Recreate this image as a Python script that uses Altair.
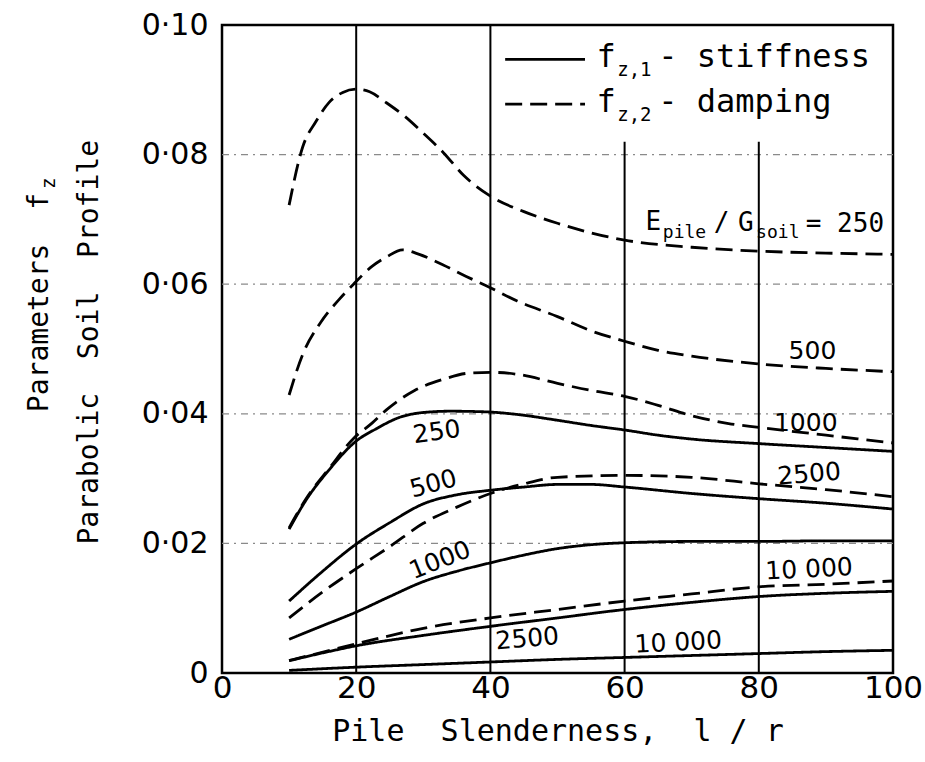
import altair as alt
import pandas as pd

FONT = "DejaVu Sans"
MONO = "DejaVu Sans Mono"
NB = "\u00a0"

# ---------------- data ----------------
stiff_250_x = [10, 12.6, 16, 20, 23, 26.6, 30, 34, 39.3, 44, 50, 55, 60, 65, 70, 80, 90, 100]
stiff_250_y = [0.0222, 0.0268, 0.0314, 0.0358, 0.0377, 0.0395, 0.0402, 0.0404, 0.0403, 0.0399,
               0.0390, 0.0382, 0.0375, 0.0367, 0.0361, 0.0354, 0.0348, 0.0342]

stiff_500_x = [10, 15, 20, 25, 30, 35, 40, 45, 50, 55, 60, 70, 80, 90, 100]
stiff_500_y = [0.0111, 0.0157, 0.0199, 0.0232, 0.0261, 0.0275, 0.0282, 0.0287, 0.0291, 0.0291,
               0.0287, 0.0277, 0.0269, 0.0262, 0.0253]

stiff_1000_x = [10, 15, 20, 25, 30, 35, 40, 45, 50, 55, 60, 70, 80, 90, 100]
stiff_1000_y = [0.0052, 0.0073, 0.0094, 0.0118, 0.0141, 0.0157, 0.0170, 0.0182, 0.0192, 0.0198,
                0.0201, 0.0203, 0.0203, 0.0204, 0.0204]

stiff_2500_x = [10, 15, 20, 30, 40, 50, 60, 70, 80, 90, 100]
stiff_2500_y = [0.0019, 0.0031, 0.0042, 0.0058, 0.0072, 0.0085, 0.0098, 0.0109, 0.0118, 0.0123, 0.0126]

stiff_10000_x = [10, 20, 30, 40, 50, 60, 70, 80, 90, 100]
stiff_10000_y = [0.0004, 0.0009, 0.0013, 0.0017, 0.0021, 0.0024, 0.0027, 0.0030, 0.0033, 0.0035]

damp_250_x = [10, 12, 14, 16, 18, 20, 22, 24.5, 27, 30, 33, 36, 40, 45, 50, 60, 70, 80, 90, 100]
damp_250_y = [0.0722, 0.0811, 0.0851, 0.0881, 0.0896, 0.0901, 0.0897, 0.0880, 0.0861, 0.0833,
              0.0803, 0.0768, 0.0736, 0.0712, 0.0694, 0.0668, 0.0657, 0.0651, 0.0648, 0.0646]

damp_500_x = [10, 12, 14.7, 17.5, 19.6, 22.4, 24.5, 26.9, 29.4, 32.9, 36.4, 39.3, 44, 50, 55,
              60, 65, 70, 80, 90, 100]
damp_500_y = [0.0429, 0.0491, 0.0541, 0.0577, 0.0600, 0.0628, 0.0642, 0.0653, 0.0646, 0.0630,
              0.0612, 0.0598, 0.0574, 0.0550, 0.0528, 0.0512, 0.0498, 0.0489, 0.0477, 0.0470, 0.0465]

damp_1000_x = [10, 12.6, 16, 19.6, 22.4, 24.5, 28.7, 32.9, 37, 40, 44, 50, 55, 60, 65, 70,
               75.5, 80, 90, 100]
damp_1000_y = [0.0224, 0.0270, 0.0316, 0.0362, 0.0386, 0.0406, 0.0436, 0.0453, 0.0463, 0.0464,
               0.0461, 0.0447, 0.0436, 0.0427, 0.0413, 0.0397, 0.0385, 0.0379, 0.0367, 0.0355]

damp_2500_x = [10, 15, 20, 25, 30, 35, 40, 45, 50, 60, 70, 80, 90, 100]
damp_2500_y = [0.0085, 0.0125, 0.0161, 0.0195, 0.0231, 0.0256, 0.0277, 0.0292, 0.0302, 0.0305,
               0.0302, 0.0292, 0.0283, 0.0272]

damp_10000_x = [10, 20, 30, 40, 50, 60, 70, 80, 90, 100]
damp_10000_y = [0.0019, 0.0045, 0.0069, 0.0085, 0.0098, 0.0111, 0.0122, 0.0133, 0.0137, 0.0142]

curves = [
    ("stiff_250", "stiffness", stiff_250_x, stiff_250_y),
    ("stiff_500", "stiffness", stiff_500_x, stiff_500_y),
    ("stiff_1000", "stiffness", stiff_1000_x, stiff_1000_y),
    ("stiff_2500", "stiffness", stiff_2500_x, stiff_2500_y),
    ("stiff_10000", "stiffness", stiff_10000_x, stiff_10000_y),
    ("damp_250", "damping", damp_250_x, damp_250_y),
    ("damp_500", "damping", damp_500_x, damp_500_y),
    ("damp_1000", "damping", damp_1000_x, damp_1000_y),
    ("damp_2500", "damping", damp_2500_x, damp_2500_y),
    ("damp_10000", "damping", damp_10000_x, damp_10000_y),
]

# curve labels (E_pile / G_soil ratios)
lab_text = ["250", "500", "1000", "2500", "10 000", "500", "1000", "2500", "10 000"]
lab_x = [32.0, 31.5, 32.5, 45.5, 68.0, 88.0, 87.0, 87.5, 87.5]
lab_y = [0.0372, 0.0292, 0.0174, 0.0053, 0.0047, 0.0497, 0.0386, 0.0307, 0.0160]
lab_angle = [352, 345, 338, 355, 357, 0, 0, 355, 357]

# ratio caption pieces: E_pile / G_soil = 250
cap_text = ["E", "pile", "/", "G", "soil", "= 250"]
cap_x = [63.1, 65.7, 73.3, 76.9, 79.6, 87.0]
cap_y = [0.0683, 0.0672, 0.0682, 0.0682, 0.0671, 0.0681]
cap_size = [26, 18, 26, 26, 18, 26]

# legend
leg_kind = ["stiffness", "damping"]
leg_x1 = [42.2, 42.2]
leg_x2 = [54.1, 54.1]
leg_y = [0.0947, 0.0878]
leg_f_x = [55.8, 55.8]
leg_f_y = [0.0935, 0.0866]
leg_sub = ["z,1", "z,2"]
leg_sub_x = [58.9, 58.9]
leg_sub_y = [0.0921, 0.0852]
leg_txt = ["- stiffness", "- damping"]
leg_txt_x = [65.0, 65.0]

hgrid_vals = [0.02, 0.04, 0.06, 0.08]
vgrid_x = [20, 40, 60, 80]
vgrid_top = [0.1, 0.1, 0.082, 0.082]

x_ticks = [0, 20, 40, 60, 80, 100]
y_ticks = [0, 0.02, 0.04, 0.06, 0.08, 0.10]

# ---------------- tables ----------------
rows = []
for name, kind, xs_, ys_ in curves:
    for a, b in zip(xs_, ys_):
        rows.append({"x": a, "y": b, "curve": name, "kind": kind})
df = pd.DataFrame(rows)

xs = alt.Scale(domain=[0, 100], nice=False, zero=False)
ys = alt.Scale(domain=[0, 0.1], nice=False)
dash_scale = alt.Scale(domain=["stiffness", "damping"], range=[[1, 0], [17, 8]])

x_axis = alt.Axis(
    values=x_ticks, format="d", ticks=False, domain=False, grid=False, labelFlush=False,
    labelFontSize=31, labelFont=FONT, labelColor="black", labelPadding=0,
    title="Pile" + NB + " Slenderness," + NB + " l / r", titleFont=MONO, titleFontSize=30,
    titleFontWeight="normal", titleColor="black", titlePadding=13,
)
y_axis = alt.Axis(
    values=y_ticks, ticks=False, domain=False, grid=False, labelFlush=False,
    labelExpr="datum.value == 0 ? '0' : replace(format(datum.value, '.2f'), '.', '·')",
    labelFontSize=30, labelFont=FONT, labelColor="black", labelPadding=14,
    title=None,
)


def X(f):
    return alt.X(f, scale=xs, axis=x_axis)


def Y(f):
    return alt.Y(f, scale=ys, axis=y_axis)


hgrid = alt.Chart(pd.DataFrame({"x": [0] * 4, "x2": [100] * 4, "y": hgrid_vals})).mark_rule(
    color="#8a8a8a", strokeWidth=1.3, strokeDash=[7, 5, 2, 5]
).encode(x=X("x:Q"), x2="x2:Q", y=Y("y:Q"))

vgrid = alt.Chart(pd.DataFrame({"x": vgrid_x, "y0": [0] * 4, "y1": vgrid_top})).mark_rule(
    color="black", strokeWidth=2
).encode(x=X("x:Q"), y=Y("y0:Q"), y2="y1:Q")

lines = alt.Chart(df).mark_line(color="black", strokeWidth=2.8, interpolate="monotone").encode(
    x=X("x:Q"),
    y=Y("y:Q"),
    strokeDash=alt.StrokeDash("kind:N", scale=dash_scale, legend=None),
    detail="curve:N",
)

labels = alt.Chart(pd.DataFrame({"t": lab_text, "x": lab_x, "y": lab_y, "a": lab_angle})).mark_text(
    font=FONT, fontSize=25, color="black", align="center", baseline="middle"
).encode(
    x=X("x:Q"), y=Y("y:Q"), text="t:N",
    angle=alt.Angle("a:Q", scale=None),
)

caption = alt.Chart(pd.DataFrame({"t": cap_text, "x": cap_x, "y": cap_y, "s": cap_size})).mark_text(
    font=MONO, color="black", align="left", baseline="alphabetic"
).encode(
    x=X("x:Q"), y=Y("y:Q"), text="t:N",
    size=alt.Size("s:Q", scale=None, legend=None),
)

leg_df = pd.DataFrame({
    "kind": leg_kind, "x1": leg_x1, "x2": leg_x2, "y": leg_y,
    "fx": leg_f_x, "fy": leg_f_y, "sub": leg_sub, "sx": leg_sub_x, "sy": leg_sub_y,
    "txt": leg_txt, "tx": leg_txt_x,
})

leg_lines = alt.Chart(leg_df).mark_rule(color="black", strokeWidth=2.8).encode(
    x=X("x1:Q"), x2="x2:Q", y=Y("y:Q"),
    strokeDash=alt.StrokeDash("kind:N", scale=dash_scale, legend=None),
)
leg_f = alt.Chart(leg_df).mark_text(
    font=MONO, fontSize=32, color="black", align="left", baseline="alphabetic"
).encode(x=X("fx:Q"), y=Y("fy:Q"), text=alt.value("f"))
leg_s = alt.Chart(leg_df).mark_text(
    font=MONO, fontSize=19, color="black", align="left", baseline="alphabetic"
).encode(x=X("sx:Q"), y=Y("sy:Q"), text="sub:N")
leg_t = alt.Chart(leg_df).mark_text(
    font=MONO, fontSize=32, color="black", align="left", baseline="alphabetic"
).encode(x=X("tx:Q"), y=Y("fy:Q"), text="txt:N")

# y-axis title (two rotated lines, the first with subscript z)
yt1 = alt.Chart(pd.DataFrame({"t": ["Parameters" + NB + " f"]})).mark_text(
    font=MONO, fontSize=28, color="black", align="right", baseline="middle", angle=270
).encode(text="t:N", x=alt.value(-182), y=alt.value(168))
yt1z = alt.Chart(pd.DataFrame({"t": ["z"]})).mark_text(
    font=MONO, fontSize=19, color="black", align="left", baseline="middle", angle=270
).encode(text="t:N", x=alt.value(-173), y=alt.value(164))
yt2 = alt.Chart(pd.DataFrame({"t": ["Parabolic" + NB + " Soil" + NB + " Profile"]})).mark_text(
    font=MONO, fontSize=28, color="black", align="right", baseline="middle", angle=270
).encode(text="t:N", x=alt.value(-132), y=alt.value(115))

chart = alt.layer(
    hgrid, vgrid, lines, labels, caption, leg_lines, leg_f, leg_s, leg_t, yt1, yt1z, yt2
).properties(
    width=671, height=648,
    autosize=alt.AutoSizeParams(type="none"),
    padding={"left": 222, "top": 25, "right": 32, "bottom": 89},
    background="white",
).configure_view(stroke="black", strokeWidth=2.5)

chart.save("out.html", embed_options={"renderer": "svg", "actions": False})
